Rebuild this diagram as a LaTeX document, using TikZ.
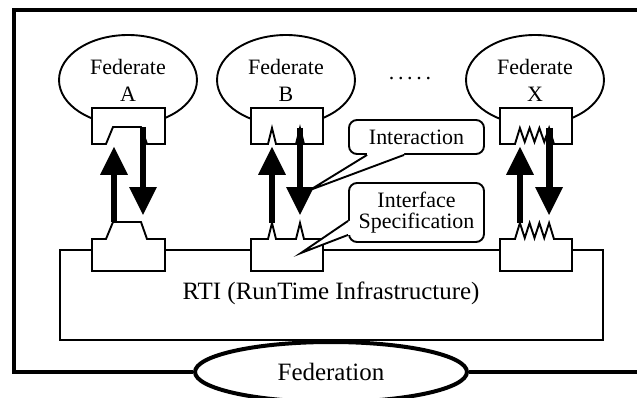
\documentclass[tikz,border=0pt]{standalone}
\usepackage{fontspec}
\setmainfont{Liberation Serif}
\usetikzlibrary{arrows.meta, shapes.geometric}
\tikzset{
  every picture/.style={line width=0.038cm},
  fed/.style={draw, ellipse, fill=white, minimum width=2.76cm, minimum height=1.8cm, inner sep=0pt, align=center, font=\fontsize{12.5}{15.3}\selectfont},
  port/.style={draw, fill=white},
  flow/.style={-{Triangle[length=0.56cm, width=0.56cm, line width=0pt 0]}, line width=0.14cm},
  frame/.style={line width=0.08cm},
  rti/.style={draw, line width=0.045cm},
  callout/.style={draw, fill=white, rounded corners=0.16cm, minimum width=2.7cm, align=center, inner sep=0pt, font=\fontsize{12.5}{12.2}\selectfont},
  big/.style={font=\fontsize{14.2}{17}\selectfont},
}

\begin{document}
\begin{tikzpicture}[x=0.02cm, y=-0.02cm]
  \useasboundingbox (0,0) rectangle (637,398);
  % federation frame
  \node[draw, ellipse, frame, minimum width=5.44cm, minimum height=1.2cm, inner sep=0pt, big] (fedn) at (331,372) {Federation};
  \draw[frame] (645,10) -- (14,10) -- (14,372) -- (fedn.west);
  \draw[frame] (fedn.east) -- (645,372);
  % RTI
  \draw[rti] (60,250) rectangle (603,340);
  \node[big] (rti) at (331,293) {RTI (RunTime Infrastructure)};
  % federates
  \node[fed] (fedA) at (128,80) {Federate\\A};
  \node[fed] (fedB) at (286,80) {Federate\\B};
  \node[fed] (fedX) at (535,80) {Federate\\X};
  \node[font=\fontsize{12.5}{15}\selectfont] (dots) at (410,79) {.\,.\,.\,.\,.};
  % interface boxes, federate side
  \draw[port] (92,108) -- (165,108) -- (165,144) -- (147,144) -- (141,127) -- (113,127) -- (106,144) -- (92,144) -- cycle;
  \draw[port] (251,108) -- (323,108) -- (323,144) -- (304,144) -- (300,128) -- (296,144) -- (276,144) -- (272,128) -- (268,144) -- (251,144) -- cycle;
  \draw[port] (500,108) -- (572,108) -- (572,144) -- (554,144) -- (549.1,128) -- (544.25,142) -- (539.4,128) -- (534.5,142) -- (529.6,128) -- (524.75,142) -- (519.9,128) -- (515,144) -- (500,144) -- cycle;
  % interface boxes, RTI side
  \draw[port] (92,271) -- (165,271) -- (165,239) -- (147,239) -- (141,222) -- (113,222) -- (106,239) -- (92,239) -- cycle;
  \draw[port] (251,271) -- (323,271) -- (323,239) -- (304,239) -- (300,223) -- (296,239) -- (276,239) -- (272,223) -- (268,239) -- (251,239) -- cycle;
  \draw[port] (500,271) -- (572,271) -- (572,239) -- (554,239) -- (549.1,223) -- (544.25,238) -- (539.4,223) -- (534.5,238) -- (529.6,223) -- (524.75,238) -- (519.9,223) -- (515,239) -- (500,239) -- cycle;
  % arrow ends
  \coordinate (A-rti) at (114,222);   \coordinate (A-in) at (114,147);
  \coordinate (A-fed) at (143,127);   \coordinate (A-out) at (143,215);
  \coordinate (B-rti) at (272,223);   \coordinate (B-in) at (272,147);
  \coordinate (B-fed) at (300,128);   \coordinate (B-out) at (300,215);
  \coordinate (X-rti) at (520,223);   \coordinate (X-in) at (520,147);
  \coordinate (X-fed) at (549.1,128); \coordinate (X-out) at (549.1,215);
  \draw[flow] (A-rti) -- (A-in);
  \draw[flow] (A-fed) -- (A-out);
  \draw[flow] (B-rti) -- (B-in);
  \draw[flow] (B-fed) -- (B-out);
  \draw[flow] (X-rti) -- (X-in);
  \draw[flow] (X-fed) -- (X-out);
  % callouts
  \node[callout, minimum height=0.68cm] (inter) at (416.5,137) {Interaction};
  \node[callout, minimum height=1.18cm] (spec) at (416.5,212.5) {Interface\\Specification};
  \coordinate (inter-tip) at (310,190);
  \coordinate (spec-tip) at (301,253);
  \fill[white] ([xshift=0.38cm,yshift=0.08cm]inter.south west) -- ([xshift=0.38cm]inter.south west) -- (inter-tip) -- ([xshift=1.12cm]inter.south west) -- ([xshift=1.12cm,yshift=0.08cm]inter.south west) -- cycle;
  \draw ([xshift=0.38cm]inter.south west) -- (inter-tip) -- ([xshift=1.12cm]inter.south west);
  \fill[white] ([xshift=0.08cm,yshift=0.44cm]spec.south west) -- ([yshift=0.44cm]spec.south west) -- (spec-tip) -- ([yshift=0.16cm]spec.south west) -- ([xshift=0.08cm,yshift=0.16cm]spec.south west) -- cycle;
  \draw ([yshift=0.44cm]spec.south west) -- (spec-tip) -- ([yshift=0.16cm]spec.south west);
\end{tikzpicture}
\end{document}
